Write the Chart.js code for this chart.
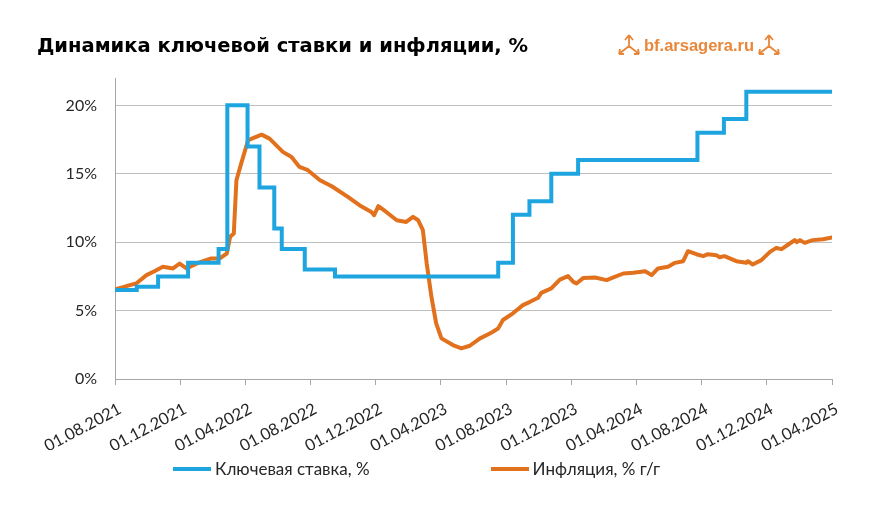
<!DOCTYPE html>
<html lang="ru">
<head>
    <meta charset="UTF-8">
    <title>Динамика ключевой ставки и инфляции, %</title>
    <script src="https://cdn.jsdelivr.net/npm/chart.js@4.4.1/dist/chart.umd.min.js"></script>
    <style>
        body { margin: 0; background: #fff; }
        .wrap { position: relative; width: 890px; height: 512px; }
        .brand {
            position: absolute; left: 617px; top: 34px;
            display: flex; align-items: center; gap: 3px;
            color: #e8873a; font: bold 16.5px "Liberation Sans", Arial, sans-serif;
        }
        .legend {
            position: absolute; left: 173px; top: 458px;
            display: flex; gap: 121px;
            font: 17px Lato, sans-serif; color: #262626;
        }
        .legend .item { display: flex; align-items: center; }
        .legend .swatch { width: 38px; height: 4px; margin-right: 4px; }
    </style>
</head>
<body>
    <div class="wrap">
        <canvas id="rateChart" width="890" height="512"></canvas>
        <div class="brand">
            <svg width="24" height="22" viewBox="0 0 24 22"><path d="M12 1 L8 6 M12 1 L16 6 M12 1 V12 L2 20 M12 12 L22 20 M2 20 H7 M2 20 L3 15 M22 20 H17 M22 20 L21 15" fill="none" stroke="#e8873a" stroke-width="1.8"/></svg>
            <span>bf.arsagera.ru</span>
            <svg width="24" height="22" viewBox="0 0 24 22"><path d="M12 1 L8 6 M12 1 L16 6 M12 1 V12 L2 20 M12 12 L22 20 M2 20 H7 M2 20 L3 15 M22 20 H17 M22 20 L21 15" fill="none" stroke="#e8873a" stroke-width="1.8"/></svg>
        </div>
        <div class="legend" id="legend"></div>
    </div>

    <script>
        // Key rate: date of change and new level
        const rateDates = ['01.08.2021', '11.09.2021', '21.10.2021', '16.12.2021', '11.02.2022', '26.02.2022',
            '05.04.2022', '27.04.2022', '25.05.2022', '08.06.2022', '21.07.2022', '16.09.2022',
            '17.07.2023', '14.08.2023', '14.09.2023', '25.10.2023', '14.12.2023',
            '24.07.2024', '12.09.2024', '24.10.2024', '01.04.2025'];
        const rateValues = [6.5, 6.75, 7.5, 8.5, 9.5, 20, 17, 14, 11, 9.5, 8, 7.5,
            8.5, 12, 13, 15, 16, 18, 19, 21, 21];

        // Inflation y/y
        const cpiDates = ['01.08.2021', '15.08.2021', '29.08.2021', '10.09.2021', '29.09.2021', '14.10.2021',
            '30.10.2021', '18.11.2021', '30.11.2021', '13.12.2021', '04.01.2022', '29.01.2022',
            '13.02.2022', '25.02.2022', '03.03.2022', '10.03.2022', '15.03.2022', '24.03.2022',
            '06.04.2022', '15.04.2022', '01.05.2022', '16.05.2022', '10.06.2022', '26.06.2022',
            '11.07.2022', '27.07.2022', '19.08.2022', '10.09.2022', '10.10.2022', '01.11.2022',
            '23.11.2022', '28.11.2022', '06.12.2022', '21.12.2022', '10.01.2023', '28.01.2023',
            '09.02.2023', '18.02.2023', '26.02.2023', '05.03.2023', '14.03.2023', '23.03.2023',
            '02.04.2023', '23.04.2023', '09.05.2023', '25.05.2023', '13.06.2023', '01.07.2023',
            '07.07.2023', '17.07.2023', '26.07.2023', '14.08.2023', '02.09.2023', '15.09.2023',
            '30.09.2023', '06.10.2023', '25.10.2023', '10.11.2023', '25.11.2023', '05.12.2023',
            '11.12.2023', '24.12.2023', '15.01.2024', '06.02.2024', '18.02.2024', '07.03.2024',
            '26.03.2024', '17.04.2024', '29.04.2024', '11.05.2024', '30.05.2024', '12.06.2024',
            '27.06.2024', '06.07.2024', '22.07.2024', '04.08.2024', '13.08.2024', '29.08.2024',
            '04.09.2024', '13.09.2024', '05.10.2024', '24.10.2024', '27.10.2024', '05.11.2024',
            '21.11.2024', '07.12.2024', '19.12.2024', '29.12.2024', '11.01.2025', '23.01.2025',
            '27.01.2025', '02.02.2025', '10.02.2025', '24.02.2025', '15.03.2025', '01.04.2025'];
        const cpiValues = [6.55, 6.7, 6.86, 6.98, 7.59, 7.88,
            8.2, 8.08, 8.44, 8.08, 8.49, 8.81,
            8.81, 9.17, 10.39, 10.63, 14.53, 15.74,
            17.45, 17.6, 17.86, 17.57, 16.6, 16.23,
            15.5, 15.26, 14.53, 14.09, 13.31, 12.7,
            12.21, 11.97, 12.63, 12.21, 11.6, 11.48,
            11.85, 11.6, 10.88, 8.44, 6.0, 4.07,
            2.97, 2.48, 2.24, 2.43, 2.97, 3.33,
            3.45, 3.7, 4.31, 4.8, 5.4, 5.64,
            5.94, 6.3, 6.62, 7.27, 7.52, 7.1,
            6.98, 7.39, 7.42, 7.23, 7.42, 7.71,
            7.76, 7.88, 7.59, 8.08, 8.2, 8.49,
            8.61, 9.34, 9.12, 8.98, 9.12, 9.05,
            8.9, 8.98, 8.61, 8.49, 8.61, 8.37,
            8.69, 9.29, 9.58, 9.49, 9.83, 10.15,
            10.0, 10.15, 9.95, 10.15, 10.22, 10.34];

        const yTicks = [0, 5, 10, 15, 20];
        const xTickStep = 4;   // months between date labels
        const xMonths = 44;    // 01.08.2021 .. 01.04.2025

        // months since 01.08.2021 (fractional)
        const monthIndex = (s) => {
            const [d, m, y] = s.split('.').map(Number);
            const days = new Date(y, m, 0).getDate();
            return (y - 2021) * 12 + (m - 8) + (d - 1) / days;
        };
        const tickLabel = (v) => {
            const total = 7 + Math.round(v);
            const y = 2021 + Math.floor(total / 12);
            const m = total % 12 + 1;
            return '01.' + String(m).padStart(2, '0') + '.' + y;
        };
        const toPoints = (dates, values) => dates.map((d, i) => ({ x: monthIndex(d), y: values[i] }));

        const tickFont = { family: 'Lato, sans-serif', size: 16 };

        const chart = new Chart(document.getElementById('rateChart'), {
            type: 'line',
            data: {
                datasets: [
                    {
                        label: 'Ключевая ставка, %',
                        data: toPoints(rateDates, rateValues),
                        borderColor: '#1ea5e0',
                        backgroundColor: '#1ea5e0',
                        borderWidth: 4,
                        stepped: true,
                        pointRadius: 0
                    },
                    {
                        label: 'Инфляция, % г/г',
                        data: toPoints(cpiDates, cpiValues),
                        borderColor: '#e2711d',
                        backgroundColor: '#e2711d',
                        borderWidth: 4,
                        borderJoinStyle: 'round',
                        borderCapStyle: 'round',
                        pointRadius: 0
                    }
                ]
            },
            options: {
                responsive: false,
                animation: false,
                layout: { padding: { left: 37, right: 58, top: 0, bottom: 62 } },
                plugins: {
                    legend: { display: false },
                    tooltip: { enabled: false },
                    title: {
                        display: true,
                        text: 'Динамика ключевой ставки и инфляции, %',
                        align: 'start',
                        color: '#000',
                        font: { family: '"DejaVu Sans", sans-serif', size: 19.5, weight: 'bold' },
                        padding: { top: 35, bottom: 19.6 }
                    }
                },
                scales: {
                    x: {
                        type: 'linear',
                        min: 0,
                        max: xMonths,
                        afterBuildTicks: (axis) => {
                            const t = [];
                            for (let v = 0; v <= xMonths; v += xTickStep) t.push({ value: v });
                            axis.ticks = t;
                        },
                        afterFit: (axis) => { axis.height = 71; },
                        ticks: {
                            callback: (v) => tickLabel(v),
                            minRotation: 28,
                            maxRotation: 28,
                            autoSkip: false,
                            color: '#262626',
                            font: { family: 'Lato, sans-serif', size: 16.5 },
                            padding: 14,
                            labelOffset: 5
                        },
                        grid: { drawOnChartArea: false, tickLength: 6, color: '#a6a6a6' },
                        border: { color: '#a6a6a6' }
                    },
                    y: {
                        min: 0,
                        max: 22,
                        afterBuildTicks: (axis) => { axis.ticks = yTicks.map(v => ({ value: v })); },
                        afterFit: (axis) => { axis.width = 78; },
                        ticks: {
                            callback: (v) => v + '%',
                            color: '#262626',
                            font: tickFont,
                            padding: 18
                        },
                        grid: { color: '#bfbfbf', drawTicks: false },
                        border: { color: '#a6a6a6' }
                    }
                }
            }
        });

        // legend below the chart, built from the datasets
        const legendEl = document.getElementById('legend');
        chart.data.datasets.forEach(ds => {
            const item = document.createElement('div');
            item.className = 'item';
            const sw = document.createElement('span');
            sw.className = 'swatch';
            sw.style.background = ds.borderColor;
            const txt = document.createElement('span');
            txt.textContent = ds.label;
            item.appendChild(sw);
            item.appendChild(txt);
            legendEl.appendChild(item);
        });
    </script>
</body>
</html>
